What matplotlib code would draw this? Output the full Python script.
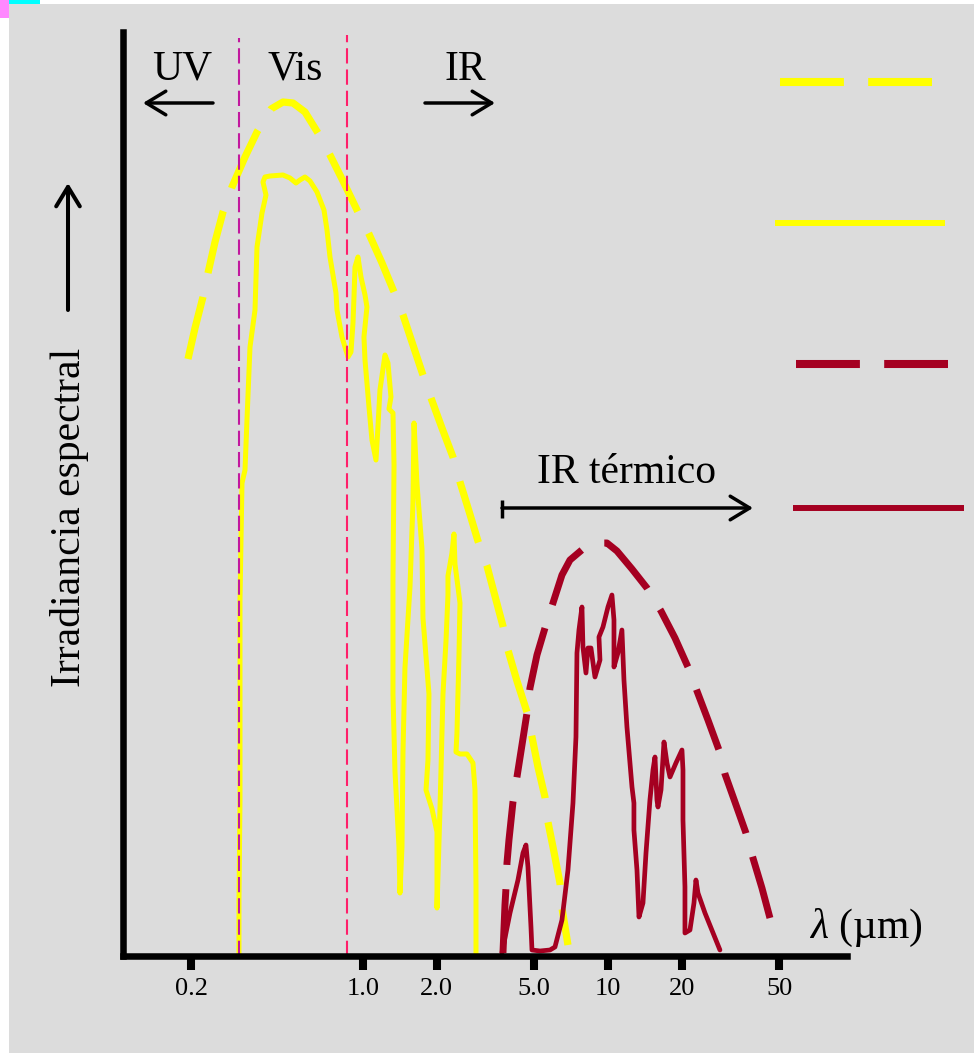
import matplotlib
matplotlib.use('Agg')
import matplotlib.pyplot as plt
from matplotlib.lines import Line2D
from matplotlib.patches import Rectangle, FancyArrowPatch, ArrowStyle
from matplotlib.ticker import NullLocator

# ---------------- data (wavelength in µm, spectral irradiance in arbitrary units) ----------------
# Solar blackbody (dashed yellow)
sun_bb_um = [0.194, 0.2072, 0.2233, 0.2341, 0.25, 0.2695, 0.2932, 0.3313, 0.3708, 0.4228, 0.4733,
             0.5198, 0.5818, 0.6573, 0.7357, 0.839, 0.9568, 1.061, 1.199, 1.342, 1.46, 1.603, 1.761,
             1.899, 2.105, 2.334, 2.493, 2.712, 2.951, 3.212, 3.462, 3.732, 3.911, 4.256, 4.675, 4.9,
             5.184, 5.536, 5.694, 6.024, 6.373, 6.493, 6.87]
sun_bb_irr = [597, 628, 659, 683, 714, 744, 769, 799, 824, 847, 854, 853, 844, 823, 801, 773, 744, 722,
              693, 664, 641, 611, 581, 558, 528, 499, 474, 445, 415, 390, 360, 330, 306, 275, 244, 219,
              189, 159, 134, 104, 73, 48, 11]

# Solar irradiance at the surface (solid yellow)
sun_sfc_um = [0.3131, 0.3131, 0.3161, 0.3161, 0.3161, 0.3191, 0.3221, 0.3313, 0.3375, 0.3472, 0.3639,
              0.3708, 0.3886, 0.4034, 0.3922, 0.3997, 0.4189, 0.4733, 0.5054, 0.5347, 0.5551, 0.5818,
              0.6098, 0.6512, 0.6954, 0.7153, 0.7357, 0.7783, 0.7857, 0.8234, 0.8711, 0.896, 0.913,
              0.9216, 0.9303, 0.9568, 0.9842, 1.022, 1.041, 1.012, 1.022, 1.061, 1.091, 1.133, 1.154,
              1.176, 1.233, 1.268, 1.304, 1.28, 1.329, 1.342, 1.329, 1.329, 1.354, 1.406, 1.419, 1.446,
              1.46, 1.487, 1.559, 1.603, 1.619, 1.665, 1.745, 1.761, 1.863, 1.846, 1.812, 1.917, 2.009,
              2.009, 2.066, 2.125, 2.186, 2.227, 2.227, 2.312, 2.356, 2.378, 2.446, 2.493, 2.469, 2.423,
              2.401, 2.493, 2.662, 2.816, 2.87, 2.897, 2.897]
sun_sfc_irr = [0, 56, 156, 256, 356, 416, 473, 486, 536, 609, 646, 709, 743, 761, 774, 779, 780, 781,
               778, 773, 776, 779, 775, 764, 746, 726, 699, 663, 646, 619, 599, 604, 633, 659, 689, 699,
               679, 661, 649, 619, 596, 549, 516, 496, 529, 566, 601, 593, 559, 547, 543, 491, 376, 262,
               185, 109, 63, 109, 204, 288, 369, 453, 533, 472, 407, 338, 262, 196, 166, 147, 124, 48,
               147, 262, 315, 361, 380, 403, 422, 392, 369, 353, 300, 223, 204, 202, 202, 193, 166, 70, 0]

# Earth blackbody (dashed dark red)
earth_bb_um = [3.732, 3.803, 3.839, 3.875, 3.948, 4.099, 4.256, 4.461, 4.675, 4.809, 5.135, 5.536,
               5.967, 6.493, 7.0, 7.908, 8.851, 9.907, 10.88, 12.53, 14.42, 16.45, 18.76, 21.19, 23.06,
               25.57, 28.35, 29.99, 32.94, 36.52, 39.0, 42.44, 45.75]
earth_bb_irr = [3, 51, 68, 93, 116, 154, 179, 211, 243, 268, 301, 328, 353, 381, 396, 407, 413, 413,
                405, 387, 368, 345, 318, 289, 265, 236, 206, 182, 154, 123, 98, 68, 38]

# Earth emission escaping the atmosphere (solid dark red)
earth_out_um = [3.697, 3.986, 4.296, 4.503, 4.631, 4.719, 4.854, 4.9, 5.282, 5.802, 6.08, 6.493, 6.87,
                7.2, 7.405, 7.475, 7.617, 7.834, 7.908, 8.134, 8.288, 8.525, 8.851, 9.277, 9.19, 9.542,
                10.0, 10.38, 10.58, 10.58, 10.98, 11.4, 11.62, 11.95, 12.53, 12.76, 12.76, 13.13, 13.38,
                13.89, 14.29, 14.42, 14.83, 15.26, 15.55, 15.84, 15.99, 16.45, 16.92, 17.4, 17.9, 18.93,
                20.03, 20.22, 20.22, 20.6, 20.6, 21.59, 22.42, 22.84, 23.28, 24.86, 28.61]
earth_out_irr = [3, 43, 76, 103, 111, 89, 29, 6, 5, 6, 9, 36, 86, 153, 219, 303, 326, 349, 309, 283,
                 308, 308, 279, 296, 319, 329, 349, 361, 336, 289, 303, 326, 276, 229, 169, 153, 126, 86,
                 39, 53, 103, 116, 156, 186, 199, 156, 149, 166, 214, 193, 179, 193, 206, 186, 136, 69,
                 23, 26, 53, 76, 63, 43, 6]

# Band boundaries (µm) and their top heights
boundaries_um = [0.3146, 0.867]
boundary_top = [918, 921]

tick_values = [0.2, 1, 2, 5, 10, 20, 50]
tick_labels = ['0.2', '1.0', '2.0', '5.0', '10', '20', '50']

# ---------------- styling ----------------
W, H = 974, 1053
plt.rcParams['font.family'] = ['Liberation Serif', 'DejaVu Serif']
plt.rcParams['mathtext.fontset'] = 'custom'
plt.rcParams['mathtext.it'] = 'Liberation Serif:italic'
plt.rcParams['mathtext.rm'] = 'Liberation Serif'
plt.rcParams['lines.scale_dashes'] = False

YEL = '#ffff00'
RED = '#a50021'
DASH = (46, 17.5)


def fp(x, y):
    """figure fraction from top-left pixel position"""
    return (x / W, 1 - y / H)


fig = plt.figure(figsize=(W / 100, H / 100), dpi=100, facecolor='white')
fig.add_artist(Rectangle((9 / W, 0), 1 - 9 / W, 1 - 4 / H, transform=fig.transFigure,
                         facecolor='#dcdcdc', edgecolor='none', zorder=0))
fig.add_artist(Rectangle((0, 1 - 18 / H), 9 / W, 18 / H, transform=fig.transFigure,
                         facecolor='#ff88ff', edgecolor='none', zorder=0))
fig.add_artist(Rectangle((9 / W, 1 - 4 / H), 31 / W, 4 / H, transform=fig.transFigure,
                         facecolor='#00ffff', edgecolor='none', zorder=0))

ax = fig.add_axes([123 / W, 1 - 956 / H, (847 - 123) / W, (956 - 32) / H])
ax.set_facecolor('none')
ax.set_xscale('log')
ax.set_xlim(0.1054, 94.3)
ax.set_ylim(0, 924)
for s in ['top', 'right']:
    ax.spines[s].set_visible(False)
for s in ['left', 'bottom']:
    ax.spines[s].set_linewidth(4.7)
    ax.spines[s].set_color('black')
ax.set_xticks(tick_values)
ax.set_xticklabels(tick_labels)
ax.xaxis.set_minor_locator(NullLocator())
ax.set_yticks([])
ax.tick_params(axis='x', direction='out', length=10, width=5.8, labelsize=19, pad=6)

ax.plot(sun_bb_um, sun_bb_irr, color=YEL, lw=5.2, dashes=DASH, dash_capstyle='butt')
ax.plot(sun_sfc_um, sun_sfc_irr, color=YEL, lw=3.6, solid_capstyle='round', solid_joinstyle='round')
ax.plot(earth_bb_um, earth_bb_irr, color=RED, lw=5.0, dashes=DASH, dash_capstyle='butt')
ax.plot(earth_out_um, earth_out_irr, color=RED, lw=3.4, solid_capstyle='round', solid_joinstyle='round')

bcol = ['#c2189e', '#ff1f6a']
for b, t, c in zip(boundaries_um, boundary_top, bcol):
    ax.plot([b, b], [0, t], color=c, lw=1.5, dashes=(11, 4.3))

# ---------------- annotations ----------------
fs = 30
fig.text(*fp(182, 80), 'UV', fontsize=fs, ha='center', va='baseline')
fig.text(*fp(295, 80), 'Vis', fontsize=fs, ha='center', va='baseline')
fig.text(*fp(465, 80), 'IR', fontsize=fs, ha='center', va='baseline')
fig.text(*fp(627, 483), 'IR térmico', fontsize=fs, ha='center', va='baseline')
fig.text(*fp(809, 938), r'$\lambda$ (µm)', fontsize=fs, ha='left', va='baseline')
fig.text(*fp(70, 517), 'Irradiancia espectral', fontsize=fs, ha='center', va='center', rotation=90)


def arrow(p0, p1, lw=2.5):
    a = FancyArrowPatch(fp(*p0), fp(*p1), transform=fig.transFigure,
                        arrowstyle=ArrowStyle('->', head_length=14, head_width=8.5),
                        mutation_scale=1, lw=lw, color='black', shrinkA=0, shrinkB=0)
    fig.add_artist(a)


arrow((213, 103), (143, 103))
arrow((425, 103), (495, 103))
arrow((68, 310), (68, 183), lw=2.9)
arrow((502, 508), (753, 508))
fig.add_artist(Line2D([502 / W, 502 / W], [1 - 500 / H, 1 - 518 / H], transform=fig.transFigure,
                      color='black', lw=2.5, solid_capstyle='butt'))


# legend key lines (no labels in the original)
def legline(x0, x1, y, color, lw, dashed):
    kw = dict(dashes=DASH, dash_capstyle='butt') if dashed else dict(solid_capstyle='butt')
    fig.add_artist(Line2D([x0 / W, x1 / W], [1 - y / H, 1 - y / H], transform=fig.transFigure,
                          color=color, lw=lw, **kw))


legline(780, 932, 81.7, YEL, 5.8, True)
legline(775, 945, 222.7, YEL, 4.3, False)
legline(796, 948, 364.3, RED, 5.8, True)
legline(793, 964, 508.3, RED, 4.3, False)

fig.savefig('out.png', dpi=100, facecolor=fig.get_facecolor())
